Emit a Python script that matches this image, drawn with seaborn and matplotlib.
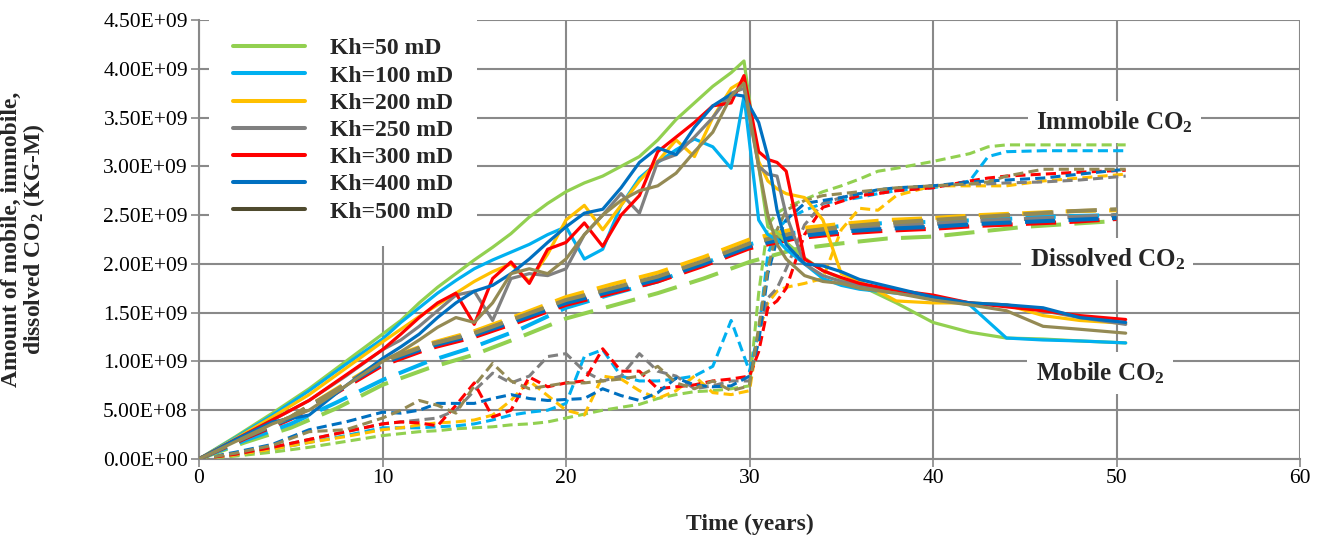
import numpy as np
import pandas as pd
import matplotlib
matplotlib.use("Agg")
import matplotlib.pyplot as plt
import seaborn as sns
from matplotlib.lines import Line2D
from matplotlib.ticker import FuncFormatter

# ---------------- data (values in 1e9 kg-mol) ----------------
series = ["Kh=50 mD", "Kh=100 mD", "Kh=200 mD", "Kh=250 mD", "Kh=300 mD", "Kh=400 mD", "Kh=500 mD"]
line_colors = ["#92D050", "#00B0F0", "#FFC000", "#808080", "#FF0000", "#0070C0", "#948A54"]
legend_colors = ["#92D050", "#00B0F0", "#FFC000", "#808080", "#FF0000", "#0070C0", "#4F4A2E"]

t_mobile = [0, 2, 4, 6, 8, 10, 11, 12, 13, 14, 15, 16, 17, 18, 19, 20, 21, 22, 23, 24, 25, 26, 27, 28, 29, 29.7,
            30.5, 31, 31.5, 32, 33, 34, 35, 36, 38, 40, 42, 44, 46, 48, 50.5]
mobile_50 = [0, 0.23, 0.47, 0.72, 1.0, 1.28, 1.42, 1.6, 1.76, 1.9, 2.04, 2.17, 2.31, 2.48, 2.62, 2.74, 2.83, 2.9, 3.0, 3.1,
             3.27, 3.48, 3.65, 3.82, 3.96, 4.08, 3.0, 2.38, 2.32, 2.22, 2.06, 1.93, 1.85, 1.78, 1.6, 1.4, 1.3, 1.24, 1.23, 1.21, 1.19]
mobile_100 = [0, 0.22, 0.45, 0.7, 0.97, 1.23, 1.4, 1.55, 1.7, 1.83, 1.95, 2.04, 2.12, 2.2, 2.3, 2.38, 2.05, 2.15, 2.6, 2.88,
              3.04, 3.17, 3.28, 3.2, 2.98, 3.72, 2.45, 2.3, 2.25, 2.15, 2.0, 1.85, 1.78, 1.74, 1.7, 1.65, 1.58, 1.24, 1.22, 1.21, 1.19]
mobile_200 = [0, 0.21, 0.43, 0.66, 0.93, 1.2, 1.33, 1.46, 1.58, 1.7, 1.82, 1.92, 2.0, 1.82, 2.1, 2.45, 2.6, 2.35, 2.6, 2.85,
              3.05, 3.27, 3.1, 3.5, 3.8, 3.88, 3.05, 2.85, 2.77, 2.72, 2.68, 2.45, 1.9, 1.82, 1.62, 1.6, 1.6, 1.58, 1.47, 1.42, 1.39]
mobile_250 = [0, 0.2, 0.4, 0.6, 0.85, 1.12, 1.22, 1.36, 1.52, 1.68, 1.72, 1.42, 1.85, 1.9, 1.88, 1.95, 2.3, 2.5, 2.72, 2.52,
              3.05, 3.12, 3.3, 3.5, 3.75, 3.8, 3.0, 2.92, 2.9, 2.5, 2.0, 1.88, 1.82, 1.78, 1.72, 1.65, 1.6, 1.58, 1.52, 1.45, 1.38]
mobile_300 = [0, 0.2, 0.4, 0.6, 0.86, 1.12, 1.28, 1.45, 1.6, 1.7, 1.38, 1.85, 2.02, 1.8, 2.15, 2.22, 2.42, 2.18, 2.5, 2.7,
              3.15, 3.3, 3.45, 3.62, 3.65, 3.93, 3.15, 3.07, 3.04, 2.95, 2.05, 1.93, 1.86, 1.8, 1.73, 1.68, 1.6, 1.56, 1.52, 1.47, 1.43]
mobile_400 = [0, 0.2, 0.38, 0.45, 0.75, 1.03, 1.15, 1.28, 1.45, 1.6, 1.72, 1.78, 1.9, 2.05, 2.22, 2.38, 2.52, 2.56, 2.78, 3.04,
              3.19, 3.12, 3.4, 3.62, 3.74, 3.72, 3.45, 3.1, 2.55, 2.2, 2.0, 1.98, 1.92, 1.84, 1.75, 1.66, 1.6, 1.58, 1.55, 1.45, 1.4]
mobile_500 = [0, 0.18, 0.36, 0.5, 0.75, 1.0, 1.1, 1.22, 1.35, 1.45, 1.4, 1.6, 1.9, 1.95, 1.9, 2.05, 2.3, 2.5, 2.65, 2.75,
              2.8, 2.93, 3.15, 3.35, 3.72, 3.85, 3.0, 2.5, 2.2, 2.05, 1.88, 1.82, 1.8, 1.75, 1.7, 1.63, 1.58, 1.52, 1.36, 1.33, 1.29]

t_dissolved = [0, 2.5, 5, 7.5, 10, 12.5, 15, 17.5, 20, 22.5, 25, 27.5, 30, 32.5, 35, 37.5, 40, 42.5, 45, 47.5, 50]
dissolved_50 = [0, 0.17, 0.32, 0.52, 0.76, 0.93, 1.07, 1.25, 1.44, 1.57, 1.70, 1.85, 2.02, 2.15, 2.21, 2.26, 2.28, 2.33, 2.38, 2.41, 2.44]
dissolved_100 = [0, 0.19, 0.36, 0.58, 0.81, 1.00, 1.15, 1.33, 1.55, 1.69, 1.82, 2.00, 2.20, 2.32, 2.39, 2.42, 2.43, 2.45, 2.47, 2.49, 2.50]
dissolved_200 = [0, 0.22, 0.43, 0.72, 1.01, 1.18, 1.31, 1.48, 1.66, 1.79, 1.91, 2.07, 2.25, 2.36, 2.41, 2.45, 2.47, 2.50, 2.52, 2.54, 2.55]
dissolved_250 = [0, 0.22, 0.43, 0.71, 1.00, 1.17, 1.29, 1.45, 1.62, 1.74, 1.86, 2.02, 2.20, 2.31, 2.36, 2.39, 2.41, 2.44, 2.46, 2.48, 2.50]
dissolved_300 = [0, 0.21, 0.41, 0.68, 0.96, 1.13, 1.25, 1.41, 1.58, 1.70, 1.82, 1.98, 2.16, 2.26, 2.31, 2.34, 2.36, 2.39, 2.41, 2.43, 2.46]
dissolved_400 = [0, 0.22, 0.42, 0.70, 0.98, 1.15, 1.27, 1.43, 1.60, 1.72, 1.84, 2.00, 2.18, 2.28, 2.33, 2.36, 2.38, 2.41, 2.43, 2.45, 2.47]
dissolved_500 = [0, 0.22, 0.43, 0.71, 1.00, 1.17, 1.29, 1.46, 1.63, 1.75, 1.87, 2.03, 2.21, 2.32, 2.38, 2.42, 2.45, 2.48, 2.51, 2.54, 2.56]

t_immobile = [0, 2, 4, 6, 8, 10, 11, 12, 13, 14, 15, 16, 17, 18, 19, 20, 21, 22, 23, 24, 25, 26, 27, 28, 29, 30,
              30.5, 31, 31.5, 32, 33, 34, 35, 36, 37, 38, 40, 42, 43, 44, 46, 48, 50.5]
immobile_50 = [0, 0.03, 0.07, 0.12, 0.18, 0.24, 0.26, 0.28, 0.29, 0.31, 0.32, 0.33, 0.35, 0.36, 0.38, 0.42, 0.46, 0.5, 0.53,
               0.56, 0.62, 0.66, 0.69, 0.7, 0.72, 0.75, 1.7, 2.4, 2.52, 2.58, 2.66, 2.74, 2.8, 2.87, 2.95, 2.98, 3.05, 3.13,
               3.2, 3.22, 3.22, 3.22, 3.22]
immobile_100 = [0, 0.04, 0.1, 0.17, 0.24, 0.32, 0.32, 0.32, 0.33, 0.34, 0.36, 0.4, 0.45, 0.48, 0.5, 0.57, 1.05, 1.12, 0.85,
                0.8, 0.8, 0.82, 0.85, 0.95, 1.42, 0.9, 1.3, 2.1, 2.35, 2.45, 2.55, 2.62, 2.65, 2.68, 2.72, 2.75, 2.78, 2.85,
                3.1, 3.15, 3.16, 3.16, 3.16]
immobile_200 = [0, 0.04, 0.1, 0.17, 0.23, 0.3, 0.32, 0.35, 0.37, 0.38, 0.4, 0.45, 0.6, 0.8, 0.65, 0.5, 0.45, 0.85, 0.82,
                0.7, 0.62, 0.7, 0.85, 0.68, 0.66, 0.7, 1.3, 1.6, 1.72, 1.76, 1.8, 1.85, 2.35, 2.57, 2.55, 2.7, 2.8, 2.8,
                2.8, 2.8, 2.85, 2.88, 2.92]
immobile_250 = [0, 0.05, 0.12, 0.2, 0.28, 0.36, 0.38, 0.4, 0.42, 0.5, 0.7, 0.88, 0.78, 0.85, 1.05, 1.08, 0.9, 0.8, 0.85,
                1.08, 0.9, 0.85, 0.72, 0.75, 0.8, 0.8, 1.3, 1.65, 1.75, 1.95, 2.4, 2.62, 2.68, 2.72, 2.75, 2.77, 2.8, 2.82,
                2.82, 2.83, 2.84, 2.86, 2.9]
immobile_300 = [0, 0.05, 0.12, 0.2, 0.28, 0.36, 0.38, 0.37, 0.34, 0.55, 0.78, 0.43, 0.5, 0.84, 0.74, 0.78, 0.8, 1.13, 0.9,
                0.9, 0.72, 0.74, 0.76, 0.8, 0.82, 0.85, 1.1, 1.55, 1.62, 1.75, 2.3, 2.58, 2.64, 2.7, 2.72, 2.75, 2.78, 2.85,
                2.88, 2.9, 2.92, 2.94, 2.96]
immobile_400 = [0, 0.07, 0.15, 0.3, 0.38, 0.48, 0.47, 0.5, 0.57, 0.57, 0.57, 0.62, 0.66, 0.62, 0.6, 0.61, 0.62, 0.72, 0.65,
                0.6, 0.68, 0.83, 0.76, 0.74, 0.75, 0.85, 1.2, 1.9, 2.25, 2.45, 2.62, 2.65, 2.68, 2.72, 2.76, 2.78, 2.8, 2.84,
                2.85, 2.86, 2.88, 2.92, 2.97]
immobile_500 = [0, 0.06, 0.14, 0.28, 0.3, 0.42, 0.5, 0.6, 0.55, 0.47, 0.75, 0.98, 0.8, 0.72, 0.75, 0.78, 0.78, 0.8, 0.82,
                0.85, 0.95, 0.78, 0.72, 0.8, 0.7, 0.75, 1.35, 1.95, 2.35, 2.55, 2.65, 2.7, 2.72, 2.74, 2.76, 2.78, 2.8, 2.82,
                2.84, 2.9, 2.97, 2.97, 2.97]

mobile = [mobile_50, mobile_100, mobile_200, mobile_250, mobile_300, mobile_400, mobile_500]
dissolved = [dissolved_50, dissolved_100, dissolved_200, dissolved_250, dissolved_300, dissolved_400, dissolved_500]
immobile = [immobile_50, immobile_100, immobile_200, immobile_250, immobile_300, immobile_400, immobile_500]

x_ticks = [0, 10, 20, 30, 40, 50, 60]
y_ticks = [0, 0.5, 1.0, 1.5, 2.0, 2.5, 3.0, 3.5, 4.0, 4.5]

# ---------------- build long table ----------------
rows = []
for name, m, d, im in zip(series, mobile, dissolved, immobile):
    for t, v in zip(t_mobile, m):
        rows.append((name, "Mobile", t, v))
    for t, v in zip(t_dissolved, d):
        rows.append((name, "Dissolved", t, v))
    for t, v in zip(t_immobile, im):
        rows.append((name, "Immobile", t, v))
df = pd.DataFrame(rows, columns=["series", "kind", "t", "v"])

# ---------------- style ----------------
sns.set_theme(style="white")
plt.rcParams["font.family"] = ["Liberation Serif", "DejaVu Serif"]
plt.rcParams["mathtext.fontset"] = "custom"
plt.rcParams["mathtext.rm"] = "Liberation Serif"
plt.rcParams["mathtext.bf"] = "Liberation Serif:bold"
plt.rcParams["mathtext.it"] = "Liberation Serif:italic"

GRID = "#898989"
fig = plt.figure(figsize=(13.28, 5.43), dpi=100)
ax = fig.add_axes([199 / 1328, 1 - 459 / 543, 1101 / 1328, 439 / 543])

kind_style = {
    "Mobile": dict(linestyle="-", lw=2.3, solid_joinstyle="round"),
    "Dissolved": dict(linestyle=(0, (7.5, 3.3)), lw=2.9),
    "Immobile": dict(linestyle=(0, (3.3, 1.7)), lw=2.2),
}

for kind in ["Immobile", "Dissolved", "Mobile"]:
    for name, col in zip(series, line_colors):
        sub = df[(df.series == name) & (df.kind == kind)]
        sns.lineplot(data=sub, x="t", y="v", ax=ax, color=col, legend=False,
                     estimator=None, sort=False, zorder=3, **kind_style[kind])

ax.set_xlim(0, 60)
ax.set_ylim(0, 4.5)
ax.set_xticks(x_ticks)
ax.set_yticks(y_ticks)
ax.yaxis.set_major_formatter(FuncFormatter(lambda v, p: "{:.2E}".format(v * 1e9)))
ax.grid(True, color=GRID, lw=1.5, zorder=0)
ax.set_axisbelow(True)
for s in ["top", "right"]:
    ax.spines[s].set_visible(False)
for s in ["left", "bottom"]:
    ax.spines[s].set_color(GRID)
    ax.spines[s].set_linewidth(1.5)
ax.tick_params(axis="both", which="major", labelsize=15.5, length=6, width=1.2,
               color=GRID, labelcolor="black", direction="out", left=True, bottom=True)
ax.tick_params(axis="y", pad=2)
ax.tick_params(axis="x", pad=1)

ax.set_xlabel("Time (years)", fontsize=17, fontweight="bold")
ax.xaxis.set_label_coords(0.5, -0.125)
ax.set_ylabel("Amount of mobile, immobile,\ndissolved CO$_\\mathbf{2}$ (KG-M)", fontsize=17,
              fontweight="bold", linespacing=0.95)
ax.yaxis.set_label_coords(-0.138, 0.5)

# annotations
box = dict(facecolor="white", edgecolor="none", pad=6)
ax.text(49.9, 3.45, "Immobile CO$_\\mathbf{2}$", fontsize=18, fontweight="bold", ha="center", va="center",
        bbox=box, zorder=5)
ax.text(49.5, 2.05, "Dissolved CO$_\\mathbf{2}$", fontsize=18, fontweight="bold", ha="center", va="center",
        bbox=box, zorder=5)
ax.text(49.1, 0.88, "Mobile CO$_\\mathbf{2}$", fontsize=18, fontweight="bold", ha="center", va="center",
        bbox=box, zorder=5)

handles = [Line2D([0], [0], color=c, lw=2.9) for c in legend_colors]
leg = ax.legend(handles, series, loc="upper left", bbox_to_anchor=(0.0094, 1.013), frameon=True,
                prop=dict(family="Liberation Serif", weight="bold", size=17),
                handlelength=3.05, handletextpad=1.05, labelspacing=0.24, borderpad=1.0,
                borderaxespad=0.0)
leg.get_frame().set_facecolor("white")
leg.get_frame().set_edgecolor("none")
leg.get_frame().set_alpha(1)
leg.set_zorder(6)

fig.savefig("out.png", dpi=100)
